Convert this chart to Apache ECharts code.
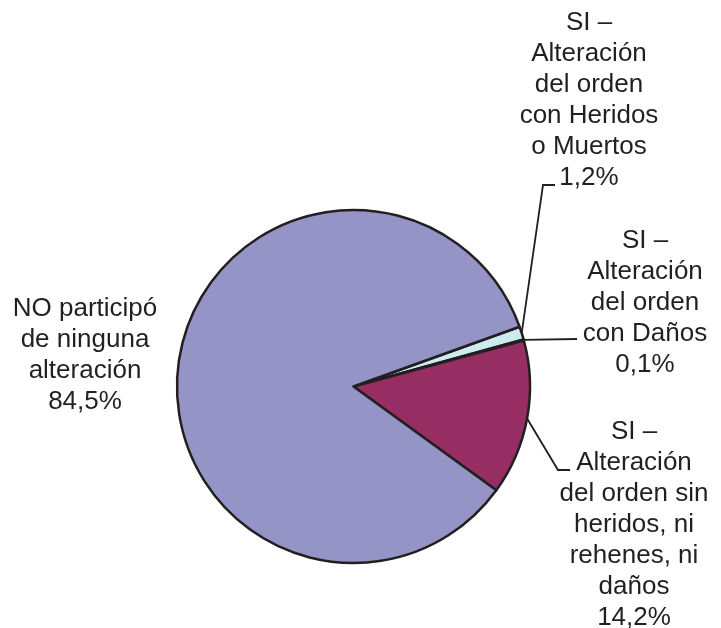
<!DOCTYPE html>
<html>
<head>
<meta charset="utf-8">
<script src="https://cdn.jsdelivr.net/npm/echarts@6/dist/echarts.min.js"></script>
<style>
  html, body { margin: 0; padding: 0; background: #fff; }
  #figure { width: 721px; height: 628px; }
</style>
</head>
<body>
<div id="figure"></div>
<script>
// categories, in drawing order (clockwise from the light blue slice)
var categories = [
    'SI –\nAlteración\ndel orden\ncon Heridos\no Muertos',
    'SI –\nAlteración\ndel orden\ncon Daños',
    'SI –\nAlteración\ndel orden sin\nheridos, ni\nrehenes, ni\ndaños',
    'NO participó\nde ninguna\nalteración'
];
var percents = [1.2, 0.1, 14.2, 84.5];
var colors = ['#cdecf0', '#231f20', '#972e63', '#9494c7'];

// where each label block sits (centre) and where its leader line bends
var labelSpots = [
    { x: 589, y: 100, bend: [[543, 185], [555, 185]] },
    { x: 645, y: 303, bend: [[577, 339]] },
    { x: 634, y: 525, bend: [[558, 470], [570, 470]] },
    { x: 85, y: 355, bend: null }
];

var figure = echarts.init(document.getElementById('figure'));

var seriesData = categories.map(function(name, i) {
    return {
        name: name,
        value: percents[i],
        itemStyle: { color: colors[i] },
        labelLine: { show: labelSpots[i].bend !== null }
    };
});

var option = {
    animation: false,
    backgroundColor: '#ffffff',
    series: [{
        type: 'pie',
        center: [353.5, 386.5],
        radius: 176.5,
        startAngle: 19.8,
        clockwise: true,
        avoidLabelOverlap: false,
        itemStyle: {
            borderColor: '#231f20',
            borderWidth: 2.5
        },
        label: {
            show: true,
            color: '#231f20',
            fontFamily: '"Liberation Sans", Arial, sans-serif',
            fontSize: 26,
            lineHeight: 31,
            align: 'center',
            formatter: function(p) {
                return p.name + '\n' + p.value.toFixed(1).replace('.', ',') + '%';
            }
        },
        labelLine: {
            show: true,
            lineStyle: { color: '#231f20', width: 1.8 }
        },
        labelLayout: function(params) {
            var spot = labelSpots[params.dataIndex];
            var out = {
                x: spot.x,
                y: spot.y,
                align: 'center',
                verticalAlign: 'middle'
            };
            if (spot.bend && params.labelLinePoints) {
                out.labelLinePoints = [params.labelLinePoints[0]].concat(spot.bend);
            }
            return out;
        },
        data: seriesData
    }]
};

figure.setOption(option);
</script>
</body>
</html>
